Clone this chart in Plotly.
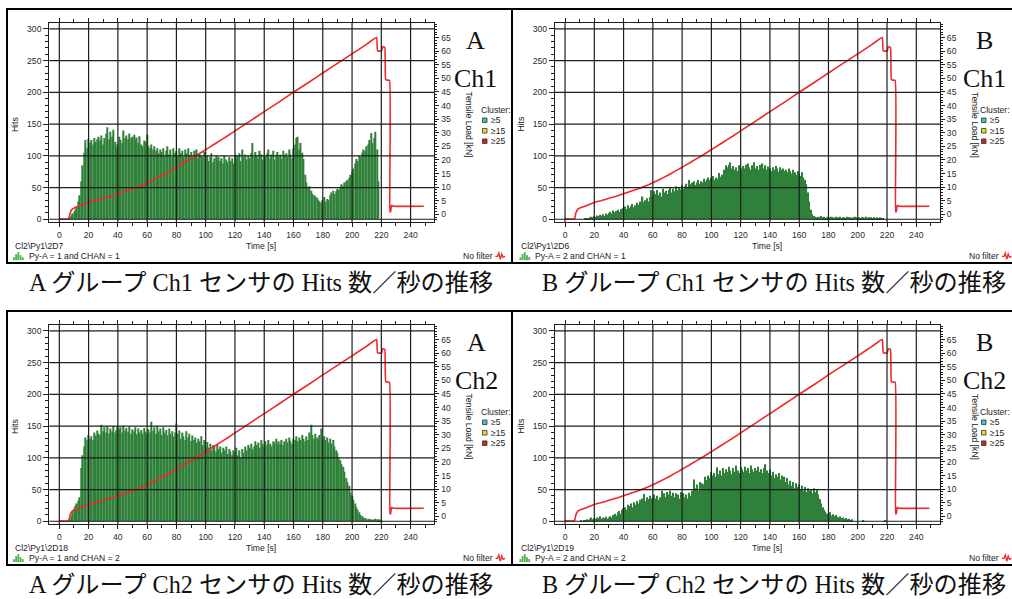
import plotly.graph_objects as go

W, H = 1012, 599

# ---------------- data ----------------
seconds = list(range(0, 221))

hits_a1 = [
    0, 0, 0, 0, 0, 0, 0, 3, 6, 9,
    12, 15, 20, 28, 38, 60, 85, 105, 125, 112,
    127, 120, 125, 118, 128, 122, 126, 130, 124, 132,
    118, 128, 135, 145, 126, 138, 130, 141, 122, 112,
    118, 130, 125, 120, 140, 128, 132, 126, 135, 128,
    130, 133, 125, 129, 120, 131, 118, 115, 124, 122,
    133, 116, 112, 118, 110, 115, 108, 112, 104, 110,
    106, 112, 100, 108, 115, 102, 110, 98, 112, 105,
    108, 100, 112, 104, 108, 98, 110, 104, 112, 100,
    106, 98, 108, 102, 110, 96, 104, 100, 98, 106,
    95, 100, 92, 98, 104, 90, 96, 100, 94, 98,
    92, 96, 88, 100, 94, 90, 98, 92, 96, 88,
    102, 96, 100, 104, 92, 110, 98, 102, 94, 100,
    96, 104, 120, 98, 106, 100, 96, 108, 102, 94,
    100, 98, 104, 110, 96, 102, 108, 94, 100, 106,
    98, 102, 96, 108, 100, 104, 98, 110, 102, 96,
    112, 118, 128, 130, 110, 120, 105, 95, 70, 58,
    50, 52, 45, 40, 38, 36, 34, 30, 28, 26,
    30, 35, 28, 32, 30, 38, 42, 45, 40, 44,
    48, 46, 50, 55, 52, 58, 60, 62, 65, 70,
    75, 80, 88, 95, 92, 100, 98, 105, 110, 108,
    115, 118, 125, 136, 120, 128, 138, 110, 60, 0,
    0,
]

hits_b1 = [
    0, 0, 0, 0, 0, 0, 0, 0, 0, 0,
    0, 0, 0, 0, 1, 2, 2, 3, 4, 3,
    5, 4, 6, 5, 7, 6, 8, 5, 9, 7,
    10, 12, 9, 14, 11, 13, 15, 12, 16, 14,
    18, 20, 16, 22, 18, 21, 24, 19, 22, 26,
    23, 28, 25, 36, 27, 30, 33, 28, 35, 46,
    38, 44, 40, 46, 38, 42, 36, 48, 42, 45,
    40, 46, 50, 42, 48, 44, 52, 46, 50, 47,
    54, 48, 52, 56, 50, 62, 55, 58, 60, 54,
    58, 62, 56, 60, 58, 64, 60, 63, 66, 62,
    65, 68, 62, 66, 64, 73, 67, 70, 66, 78,
    85, 82, 86, 90, 80, 84, 78, 82, 76, 85,
    80, 78, 84, 80, 86, 88, 82, 78, 85, 90,
    80, 84, 78, 86, 82, 88, 80, 85, 78, 83,
    80, 76, 82, 78, 84, 80, 75, 82, 78, 80,
    76, 78, 74, 80, 76, 72, 78, 74, 70, 76,
    72, 68, 74, 66, 62, 55, 42, 28, 15, 8,
    5, 4, 3, 4, 3, 5, 3, 4, 2, 3,
    4, 3, 4, 3, 2, 4, 3, 3, 4, 2,
    3, 3, 2, 4, 3, 3, 2, 3, 4, 3,
    2, 3, 2, 3, 3, 2, 4, 2, 3, 3,
    2, 3, 2, 3, 2, 3, 2, 1, 0, 0,
    0,
]

hits_a2 = [
    0, 0, 0, 0, 0, 0, 0, 3, 8, 14,
    20, 24, 28, 32, 38, 84, 104, 118, 132, 128,
    136, 130, 134, 128, 140, 135, 143, 138, 136, 152,
    142, 148, 140, 150, 138, 146, 142, 150, 140, 144,
    150, 145, 148, 140, 150, 143, 147, 141, 149, 138,
    145, 142, 148, 137, 146, 140, 144, 138, 147, 141,
    137, 145, 140, 157, 143, 148, 138, 150, 142, 146,
    136, 148, 140, 144, 135, 146, 138, 142, 134, 140,
    154, 138, 143, 130, 140, 134, 128, 142, 132, 138,
    126, 135, 128, 132, 124, 130, 126, 134, 120, 128,
    118, 125, 116, 122, 112, 120, 118, 110, 120, 114,
    118, 108, 116, 112, 118, 106, 114, 110, 104, 112,
    108, 116, 104, 112, 100, 114, 108, 118, 112, 120,
    116, 122, 114, 118, 126, 120, 124, 116, 128, 122,
    118, 126, 120, 128, 122, 118, 126, 124, 130, 120,
    126, 122, 128, 120, 126, 130, 124, 132, 126, 122,
    130, 128, 134, 126, 132, 128, 136, 130, 126, 134,
    128, 140, 152, 136, 130, 138, 132, 128, 136, 146,
    130, 134, 128, 132, 124, 130, 122, 128, 118, 112,
    108, 100, 96, 90, 86, 78, 68, 62, 56, 45,
    40, 34, 28, 22, 18, 14, 10, 8, 6, 5,
    4, 3, 4, 3, 2, 3, 4, 3, 2, 3,
    2,
]

hits_b2 = [
    0, 0, 0, 0, 0, 0, 0, 0, 0, 0,
    0, 1, 0, 2, 1, 3, 2, 4, 6, 3,
    5, 4, 6, 5, 8, 4, 6, 5, 7, 4,
    6, 8, 6, 10, 12, 9, 14, 16, 12, 18,
    20, 22, 18, 26, 24, 28, 22, 30, 26, 32,
    28, 34, 30, 36, 43, 32, 38, 35, 40, 36,
    38, 42, 36, 40, 34, 38, 48, 40, 44, 38,
    46, 42, 48, 40, 45, 38, 44, 42, 36, 46,
    40, 44, 38, 42, 36, 45, 40, 48, 66, 52,
    58, 48, 62, 55, 60, 58, 70, 65, 72, 68,
    78, 72, 76, 70, 85, 74, 80, 72, 84, 76,
    82, 78, 86, 80, 74, 84, 78, 88, 80, 76,
    86, 82, 78, 86, 80, 84, 76, 88, 82, 78,
    84, 80, 86, 78, 82, 76, 84, 90, 80, 76,
    82, 72, 78, 68, 74, 70, 76, 66, 72, 64,
    70, 62, 68, 58, 64, 56, 62, 52, 60, 54,
    58, 50, 56, 48, 54, 46, 52, 48, 50, 44,
    52, 46, 50, 42, 35, 28, 22, 18, 15, 12,
    10, 14, 9, 11, 8, 10, 7, 6, 8, 5,
    6, 4, 5, 3, 4, 2, 3, 0, 0, 0,
    0, 0, 0, 0, 2, 0, 0, 0, 0, 0,
    0, 0, 0, 0, 0, 0, 0, 0, 0, 2,
    0,
]

load_time = [0, 6.5, 7.3, 8, 9, 10, 12, 15, 20, 25,
             30, 35, 40, 45, 50, 55, 60, 65, 70, 75,
             80, 85, 90, 95, 100, 105, 110, 115, 120, 130,
             140, 150, 160, 170, 180, 190, 200, 210, 216.8, 217.4,
             220.2, 220.8, 222.4, 223.0, 225.6, 225.9, 226.4, 226.9, 228, 249]
load_kn = [-1.6, -1.6, 0.3, 1.3, 2.0, 2.3, 2.7, 3.3, 4.4, 5.1,
           5.9, 6.7, 7.6, 8.5, 9.4, 10.4, 11.6, 12.9, 14.3, 15.8,
           17.3, 18.9, 20.5, 22.1, 23.8, 25.5, 27.2, 28.9, 30.7, 34.2,
           37.8, 41.3, 44.9, 48.4, 52.0, 55.5, 59.0, 62.6, 65.0, 60.1,
           60.1, 61.6, 61.4, 49.5, 49.2, 1.0, 1.0, 3.3, 3.0, 3.0]

time_ticks = list(range(0, 241, 20))
hits_ticks = list(range(0, 301, 50))
load_ticks = list(range(0, 66, 5))

panel_hits = [hits_a1, hits_b1, hits_a2, hits_b2]
panel_group = ["A", "B", "A", "B"]
panel_channel = ["Ch1", "Ch1", "Ch2", "Ch2"]
panel_file = ["Cl2\\Py1\\2D7", "Cl2\\Py1\\2D6", "Cl2\\Py1\\2D18", "Cl2\\Py1\\2D19"]
panel_filter = ["Py-A = 1 and CHAN = 1", "Py-A = 2 and CHAN = 1",
                "Py-A = 1 and CHAN = 2", "Py-A = 2 and CHAN = 2"]
captions = ["A グループ Ch1 センサの Hits 数／秒の推移",
            "B グループ Ch1 センサの Hits 数／秒の推移",
            "A グループ Ch2 センサの Hits 数／秒の推移",
            "B グループ Ch2 センサの Hits 数／秒の推移"]
cluster_labels = ["≥5", "≥15", "≥25"]
cluster_colors = ["#3cc6c8", "#e4de1c", "#d42020"]

# ---------------- styling / layout ----------------
BAR_COLOR = "#2f803a"
RED = "#f02828"
AXC = "#1e1e1e"
SANS = "Liberation Sans, Arial, sans-serif"
SERIF = "Liberation Serif, Times New Roman, Noto Sans CJK JP, serif"
SMALL = 8.6
TICKFONT = dict(family=SANS, size=SMALL, color="#2a2a2a")


def fx(x):
    return x / W


def fy(y):
    return 1 - y / H


# pixel offsets of each panel (axes x offset, y offset, decoration x offset)
offsets = [(0, 0, 0), (505.7, 0, 506.5), (0, 303, 0), (505.7, 303, 506.5)]
letter_x = [475, 984, 476, 984]
caption_x = [261, 774, 261, 774]
cluster_x = [479, 978, 479, 978]

fig = go.Figure()
layout = dict(
    width=W, height=H, margin=dict(l=0, r=0, t=0, b=0),
    paper_bgcolor="white", plot_bgcolor="white", showlegend=False,
)
shapes = []
annotations = []


def text(x, y, s, size=SMALL, family=SANS, color="#222222", angle=0, xanchor="center", yanchor="middle"):
    annotations.append(dict(x=fx(x), y=fy(y), xref="paper", yref="paper", text=s,
                            showarrow=False, textangle=angle, xanchor=xanchor, yanchor=yanchor,
                            font=dict(family=family, size=size, color=color)))


def rect(x0, y0, x1, y1, fill, line="rgba(0,0,0,0)", lw=0):
    shapes.append(dict(type="rect", xref="paper", yref="paper",
                       x0=fx(x0), x1=fx(x1), y0=fy(y0), y1=fy(y1),
                       fillcolor=fill, line=dict(color=line, width=lw), layer="above"))


for i in range(4):
    ax, ay, tx = offsets[i]
    xr = "x" if i == 0 else f"x{i + 1}"
    yl = "y" if i == 0 else f"y{2 * i + 1}"
    yr = f"y{2 * i + 2}"
    xkey = "xaxis" if i == 0 else f"xaxis{i + 1}"
    ylkey = "yaxis" if i == 0 else f"yaxis{2 * i + 1}"
    yrkey = f"yaxis{2 * i + 2}"

    fig.add_trace(go.Bar(x=seconds, y=panel_hits[i], xaxis=xr, yaxis=yl,
                         marker=dict(color=BAR_COLOR, line=dict(width=0)), width=0.85))
    fig.add_trace(go.Scatter(x=load_time, y=load_kn, xaxis=xr, yaxis=yr, mode="lines",
                             line=dict(color=RED, width=1.6, shape="spline", smoothing=0.3)))

    layout[xkey] = dict(
        domain=[fx(49.3 + ax), fx(434.3 + ax)], anchor=yl, range=[-6.85, 256.2],
        tickmode="linear", tick0=0, dtick=20, ticks="outside", ticklen=4, tickwidth=1,
        tickcolor=AXC, showline=True, linecolor=AXC, linewidth=1.3, mirror="ticks",
        showgrid=False, zeroline=False, tickfont=TICKFONT,
        minor=dict(tick0=0, dtick=10, ticks="outside", ticklen=2.5, tickcolor=AXC, showgrid=False),
    )
    layout[ylkey] = dict(
        domain=[fy(223 + ay), fy(23 + ay)], anchor=xr, range=[-4.7, 309.4],
        tickmode="linear", tick0=0, dtick=50, ticks="outside", ticklen=5, tickwidth=1,
        tickcolor=AXC, showline=True, linecolor=AXC, linewidth=1.3,
        showgrid=False, zeroline=False, tickfont=TICKFONT,
        minor=dict(tick0=0, dtick=10, ticks="outside", ticklen=3, tickcolor=AXC, showgrid=False),
    )
    layout[yrkey] = dict(
        overlaying=yl, side="right", anchor=xr, range=[-2.9, 70.4],
        tickmode="array", tickvals=load_ticks, ticks="outside", ticklen=4, tickwidth=1,
        tickcolor=AXC, showline=True, linecolor=AXC, linewidth=1.3,
        showgrid=False, zeroline=False, tickfont=TICKFONT,
        minor=dict(tick0=0, dtick=1, ticks="outside", ticklen=2, tickcolor=AXC, showgrid=False),
    )

    # grid lines drawn above the bars
    for t in time_ticks:
        shapes.append(dict(type="line", xref=xr, yref=f"{yl} domain", x0=t, x1=t, y0=0, y1=1,
                           line=dict(color=AXC, width=1.2), layer="above"))
    for h in hits_ticks:
        shapes.append(dict(type="line", xref=f"{xr} domain", yref=yl, x0=0, x1=1, y0=h, y1=h,
                           line=dict(color=AXC, width=1.2), layer="above"))

    # panel frame
    left = 7 if tx == 0 else 512
    right = 512 if tx == 0 else 1016
    shapes.append(dict(type="rect", xref="paper", yref="paper",
                       x0=fx(left), x1=fx(right), y0=fy(9 + ay), y1=fy(264 + ay),
                       line=dict(color="black", width=2), fillcolor="rgba(0,0,0,0)", layer="above"))

    # axis titles
    text(14.5 + tx, 125 + ay, "Hits", angle=-90)
    text(469 + tx, 125 + ay, "Tensile Load [kN]", angle=90)
    text(261 + ax, 247 + ay, "Time [s]")

    # big group / channel labels
    text(letter_x[i], 41 + ay, panel_group[i], size=26, family=SERIF, color="#111111")
    text(letter_x[i], 79 + ay, panel_channel[i], size=26, family=SERIF, color="#111111")

    # cluster legend
    cx = cluster_x[i]
    text(cx, 110 + ay, "Cluster:", xanchor="left")
    for k, (lab, col) in enumerate(zip(cluster_labels, cluster_colors)):
        yy = 120.7 + 10.5 * k + ay
        rect(cx + 3.5, yy - 2.3, cx + 8, yy + 2.3, col, "#333333", 0.8)
        text(cx + 10, yy, lab, xanchor="left")

    # footer texts
    text(12.5 + tx, 246.7 + ay, panel_file[i], xanchor="left")
    bar_icon = [3, 6, 8, 5, 3]
    for k, hgt in enumerate(bar_icon):
        rect(13 + tx + 2.2 * k, 261 + ay - hgt, 14.8 + tx + 2.2 * k, 261 + ay, "#4caf50")
    text(26.5 + tx, 257.3 + ay, panel_filter[i], xanchor="left")
    text(494.5 + tx, 257.3 + ay, "No filter", xanchor="right")
    sx, sy = 495.5 + tx, 257.3 + ay
    path = (f"M{fx(sx)},{fy(sy)} L{fx(sx + 2)},{fy(sy)} L{fx(sx + 3.3)},{fy(sy - 3.5)} "
            f"L{fx(sx + 4.8)},{fy(sy + 3)} L{fx(sx + 6.2)},{fy(sy - 2.5)} L{fx(sx + 7.5)},{fy(sy + 1)} "
            f"L{fx(sx + 9.5)},{fy(sy)}")
    shapes.append(dict(type="path", xref="paper", yref="paper", path=path,
                       line=dict(color=RED, width=1.3), layer="above"))

    # caption under panel
    text(caption_x[i], 283 + ay, captions[i], size=24.2, family=SERIF, color="#111111")

layout["shapes"] = shapes
layout["annotations"] = annotations
fig.update_layout(**layout)

fig.write_html("out.html", config=dict(displayModeBar=False),
               post_script="document.body.style.margin='0';")
